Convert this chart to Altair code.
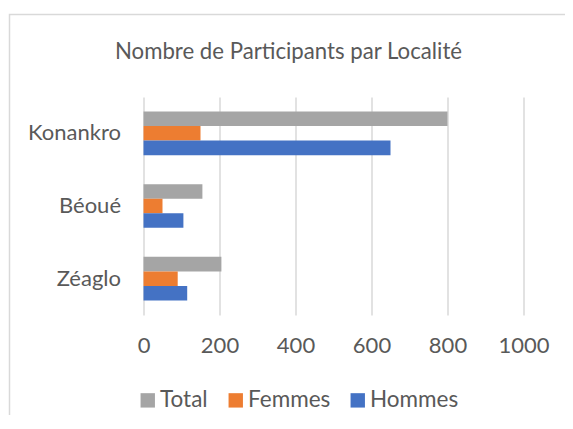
import altair as alt
import pandas as pd

localites = ["Konankro", "Béoué", "Zéaglo"]
series = ["Total", "Femmes", "Hommes"]
total = [800, 155, 205]
femmes = [150, 50, 90]
hommes = [650, 105, 115]
colors = ["#A5A5A5", "#ED7D31", "#4472C4"]
x_ticks = [0, 200, 400, 600, 800, 1000]

rows = []
for i, loc in enumerate(localites):
    for s, vals in zip(series, [total, femmes, hommes]):
        rows.append({"Localité": loc, "Série": s, "Participants": vals[i]})
df = pd.DataFrame(rows)

font = "Lato"
txt = "#595959"

bars = alt.Chart(df).mark_bar().encode(
    y=alt.Y("Localité:N", sort=localites,
            scale=alt.Scale(paddingInner=0.4, paddingOuter=0.2),
            axis=alt.Axis(title=None, ticks=False, domain=False, grid=False,
                          labelFontSize=22, labelColor=txt, labelFont=font,
                          labelPadding=23)),
    yOffset=alt.YOffset("Série:N", sort=series,
                        scale=alt.Scale(paddingInner=0, paddingOuter=0)),
    x=alt.X("Participants:Q", scale=alt.Scale(domain=[0, 1000]),
            axis=alt.Axis(values=x_ticks, format="d", title=None, ticks=False,
                          domain=False, grid=True, gridColor="#D9D9D9",
                          gridWidth=1.5, labelFontSize=22, labelColor=txt,
                          labelFont=font, labelPadding=20, labelFlush=False,
                          labelOverlap=False)),
    color=alt.Color("Série:N", sort=series,
                    scale=alt.Scale(domain=series, range=colors),
                    legend=alt.Legend(orient="none", legendX=-7, legendY=292,
                                      direction="horizontal", title=None,
                                      symbolType="square", symbolSize=207,
                                      symbolStrokeWidth=0, labelFontSize=22.5,
                                      labelFont=font, labelColor=txt,
                                      columnPadding=16, labelOffset=1)),
)

border = alt.Chart(pd.DataFrame({"k": [0]})).mark_rect(
    fill="white", fillOpacity=0, stroke="#D9D9D9", strokeWidth=1.5
).encode(
    x=alt.value(-134), x2=alt.value(500), y=alt.value(-82.5), y2=alt.value(400)
)

chart = alt.layer(border, bars).properties(
    width=380, height=218,
    title=alt.TitleParams("Nombre de Participants par Localité", font=font,
                          fontSize=22.2, color=txt, fontWeight="normal",
                          anchor="middle", frame="group", baseline="alphabetic",
                          dx=-45, dy=67, offset=0),
    autosize=alt.AutoSizeParams(type="none"),
    padding={"left": 135.5, "top": 89, "right": 41, "bottom": 100},
).configure_view(strokeOpacity=0)

chart.save("out.html", embed_options={"renderer": "svg", "actions": False})
